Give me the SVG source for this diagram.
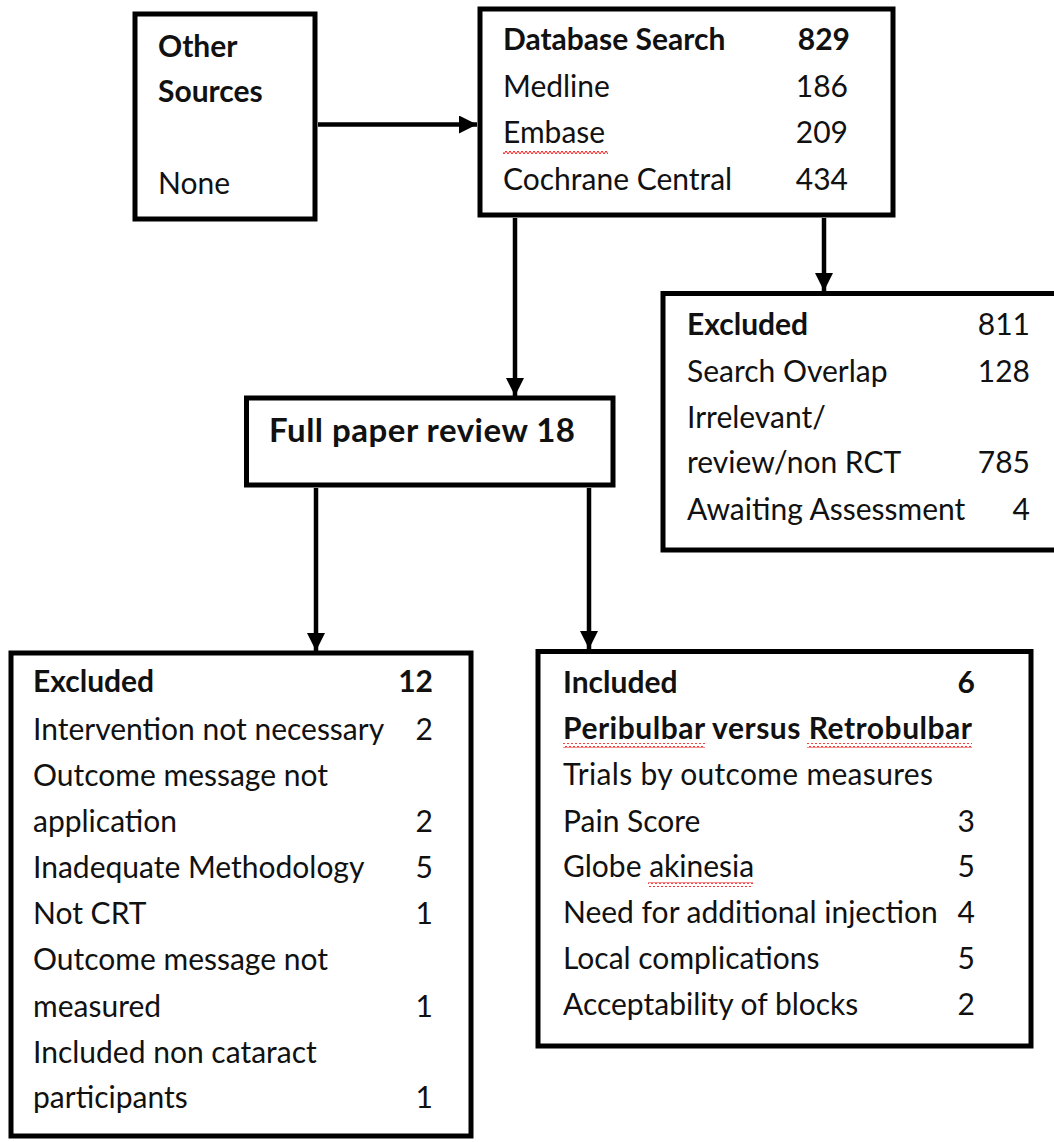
<svg xmlns="http://www.w3.org/2000/svg" width="1054" height="1142" viewBox="0 0 1054 1142">
<style>
.box{fill:#fff;stroke:#000;stroke-width:5}
.t{font-family:Lato,"Open Sans",sans-serif;font-size:30px;fill:#111}
.b{font-weight:bold}
.n{text-anchor:end}
.c{stroke:#000;stroke-width:4.5;fill:none}
</style>
<defs>
<marker id="ah" markerUnits="userSpaceOnUse" markerWidth="18" markerHeight="18" refX="18" refY="9" orient="auto">
<path d="M0,0 L18,9 L0,18 Z" fill="#000"/>
</marker>
<pattern id="sq" width="4" height="5" patternUnits="userSpaceOnUse">
<path d="M0,4 L2,1 L4,4" stroke="#e00" stroke-width="0.9" fill="none"/>
</pattern>
</defs>
<rect width="1054" height="1142" fill="#fff"/>
<g id="connectors">
<line class="c" x1="318" y1="124.5" x2="477" y2="124.5" marker-end="url(#ah)"/>
<line class="c" x1="515" y1="218" x2="515" y2="396" marker-end="url(#ah)"/>
<line class="c" x1="824" y1="218" x2="824" y2="291" marker-end="url(#ah)"/>
<line class="c" x1="316" y1="488" x2="316" y2="651" marker-end="url(#ah)"/>
<line class="c" x1="589" y1="488" x2="589" y2="649" marker-end="url(#ah)"/>
</g>
<g id="other-sources">
<rect class="box" x="135" y="14" width="180" height="205"/>
<text class="t b" x="158" y="57">Other</text>
<text class="t b" x="158" y="102">Sources</text>
<text class="t" x="158" y="194">None</text>
</g>
<g id="database-search">
<rect class="box" x="480" y="9" width="413" height="206"/>
<text class="t b" x="503" y="50">Database Search</text>
<text class="t b n" x="850" y="50">829</text>
<text class="t" x="503" y="97">Medline</text>
<text class="t n" x="848" y="97">186</text>
<text class="t" x="503" y="143">Embase</text>
<text class="t n" x="848" y="143">209</text>
<rect x="503" y="149" width="105" height="5" fill="url(#sq)"/>
<text class="t" x="503" y="190">Cochrane Central</text>
<text class="t n" x="848" y="190">434</text>
</g>
<g id="excluded-search">
<rect class="box" x="663" y="293.5" width="400" height="256.5"/>
<text class="t b" x="687" y="335">Excluded</text>
<text class="t n" x="1030" y="335">811</text>
<text class="t" x="687" y="382">Search Overlap</text>
<text class="t n" x="1030" y="382">128</text>
<text class="t" x="687" y="428">Irrelevant/</text>
<text class="t" x="687" y="473">review/non  RCT</text>
<text class="t n" x="1030" y="473">785</text>
<text class="t" x="687" y="520">Awaiting Assessment</text>
<text class="t n" x="1030" y="520">4</text>
</g>
<g id="full-paper-review">
<rect class="box" x="246.5" y="398" width="366.5" height="87"/>
<text class="t b" x="269" y="442" style="font-size:33px" textLength="306" lengthAdjust="spacing">Full paper review 18</text>
</g>
<g id="excluded-full">
<rect class="box" x="11" y="653" width="460" height="483"/>
<text class="t b" x="33" y="692">Excluded</text>
<text class="t b n" x="433" y="692">12</text>
<text class="t" x="33" y="740">Intervention not necessary</text>
<text class="t n" x="433" y="740">2</text>
<text class="t" x="33" y="786">Outcome message not</text>
<text class="t" x="33" y="832">application</text>
<text class="t n" x="433" y="832">2</text>
<text class="t" x="33" y="878">Inadequate Methodology</text>
<text class="t n" x="433" y="878">5</text>
<text class="t" x="33" y="924">Not CRT</text>
<text class="t n" x="433" y="924">1</text>
<text class="t" x="33" y="970">Outcome message not</text>
<text class="t" x="33" y="1017">measured</text>
<text class="t n" x="433" y="1017">1</text>
<text class="t" x="33" y="1063">Included non cataract</text>
<text class="t" x="33" y="1108">participants</text>
<text class="t n" x="433" y="1108">1</text>
</g>
<g id="included">
<rect class="box" x="538" y="651.5" width="493" height="394.5"/>
<text class="t b" x="563" y="693">Included</text>
<text class="t b n" x="975" y="693">6</text>
<text class="t b" x="563" y="739" textLength="409" lengthAdjust="spacing">Peribulbar versus Retrobulbar</text>
<rect x="563" y="743" width="142" height="5" fill="url(#sq)"/>
<rect x="807" y="743" width="165" height="5" fill="url(#sq)"/>
<text class="t" x="563" y="785" textLength="370" lengthAdjust="spacing">Trials by  outcome  measures</text>
<text class="t" x="563" y="832">Pain Score</text>
<text class="t n" x="975" y="832">3</text>
<text class="t" x="563" y="877">Globe  akinesia</text>
<rect x="648" y="882" width="105" height="5" fill="url(#sq)"/>
<text class="t n" x="975" y="877">5</text>
<text class="t" x="563" y="923">Need for additional  injection</text>
<text class="t n" x="975" y="923">4</text>
<text class="t" x="563" y="969">Local complications</text>
<text class="t n" x="975" y="969">5</text>
<text class="t" x="563" y="1015">Acceptability  of blocks</text>
<text class="t n" x="975" y="1015">2</text>
</g>
</svg>
